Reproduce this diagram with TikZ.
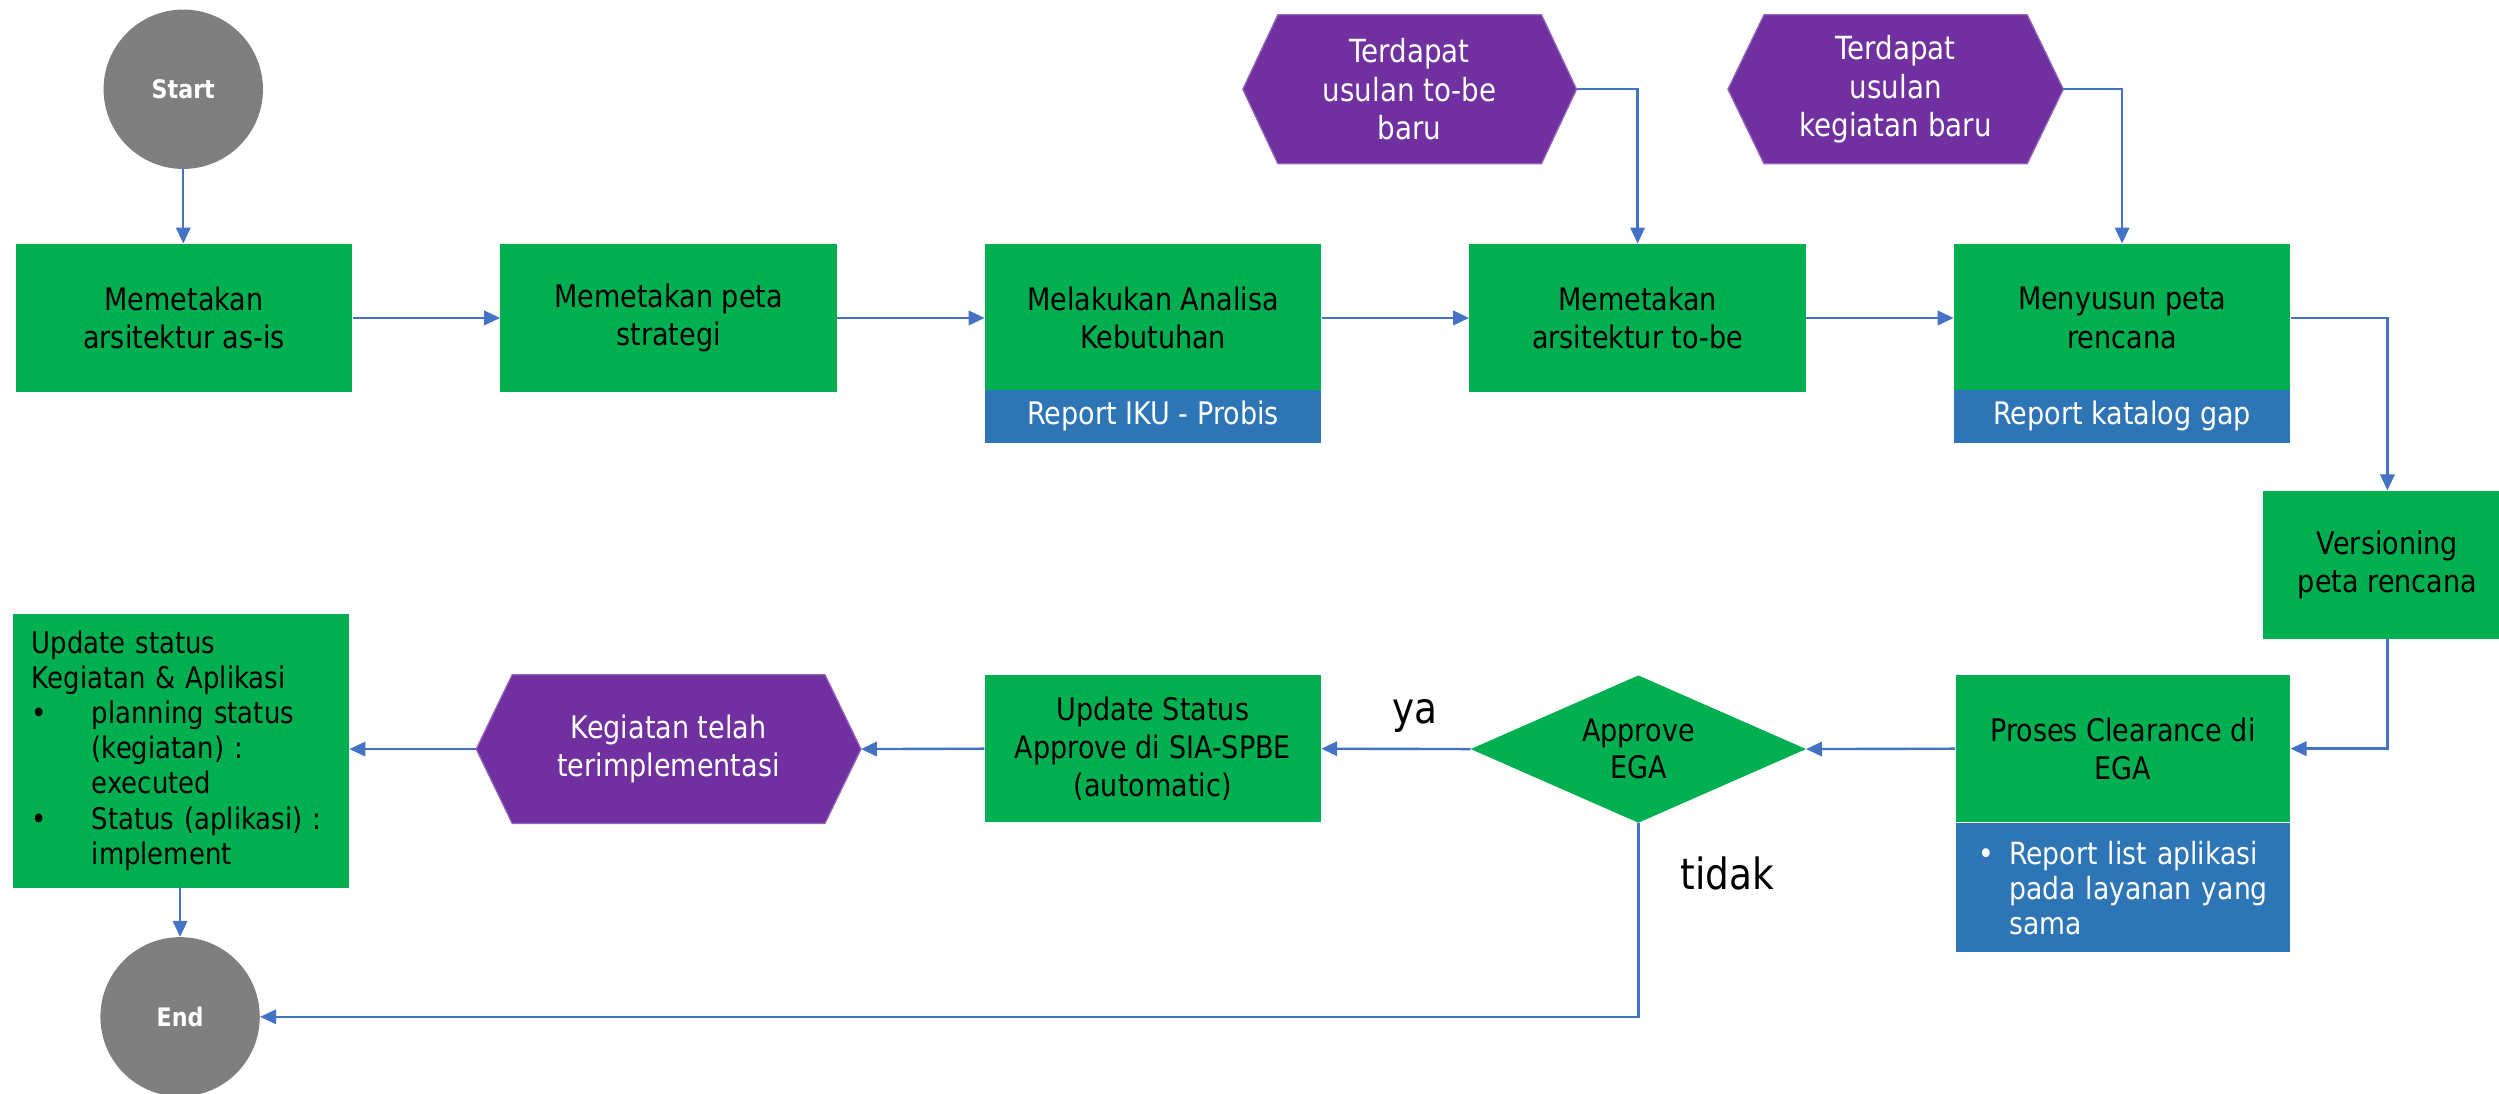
\documentclass[tikz,border=0pt]{standalone}
\usepackage{fontspec}
\setmainfont{DejaVu Sans}[FakeStretch=0.87]
\usetikzlibrary{arrows.meta,backgrounds}
\definecolor{pgreen}{HTML}{00B050}
\definecolor{pblue}{HTML}{2E75B6}
\definecolor{ppurple}{HTML}{7030A0}
\definecolor{pgray}{HTML}{7F7F7F}
\definecolor{parrow}{HTML}{4472C4}
\begin{document}
\begin{tikzpicture}[x=1pt,y=-1pt,
  txt/.style={font=\fontsize{19.5}{24}\selectfont, align=center},
  gbox/.style={txt, fill=pgreen, text=black, minimum width=211pt, minimum height=93pt, inner sep=0pt},
  rbar/.style={font=\fontsize{19.5}{22}\selectfont, fill=pblue, text=white, minimum width=211pt, minimum height=33.4pt, inner sep=0pt, align=center},
  hexbox/.style={txt, text=white, minimum height=93pt, inner sep=0pt},
  term/.style={circle, fill=pgray, text=white, minimum size=100pt, inner sep=0pt, font=\fontsize{16}{19}\selectfont\bfseries},
  dec/.style={text=black, minimum width=210pt, minimum height=92pt, inner sep=0pt, font=\fontsize{19.5}{23}\selectfont, align=center},
  lbl/.style={font=\fontsize{27}{30}\selectfont, inner sep=0pt},
  arr/.style={-{Triangle[length=10pt,width=9pt]}, line width=1.5pt, draw=parrow},
  hexfill/.style={fill=ppurple, draw=ppurple!75!white, line width=0.8pt}
]
\useasboundingbox (0,0) rectangle (1568,686.4);

% terminals
\node[term] (start) at (115,56) {Start};
\node[term] (end) at (113,638) {End};

% top row
\node[gbox] (b1) at (115.5,199.5) {Memetakan\\arsitektur as-is};
\node[gbox] (b2) at (419.5,199.5) {Memetakan peta\\strategi};
\node[gbox] (b3) at (723.5,199.5) {Melakukan Analisa\\Kebutuhan};
\node[rbar] (r3) at (723.5,261.1) {Report IKU - Probis};
\node[gbox] (b4) at (1027.5,199.5) {Memetakan\\arsitektur to-be};
\node[gbox] (b5) at (1331.5,199.5) {Menyusun peta\\rencana};
\node[rbar] (r5) at (1331.5,261.1) {Report katalog gap};

% hexagons
\node[hexbox, minimum width=209pt, font=\fontsize{20}{24}\selectfont] (h1) at (884.5,56) {Terdapat\\usulan to-be\\baru};
\node[hexbox, minimum width=210pt, font=\fontsize{20}{24}\selectfont] (h2) at (1189.4,56) {Terdapat\\usulan\\kegiatan baru};
\node[hexbox, minimum width=241pt] (h3) at (419.5,470) {Kegiatan telah\\terimplementasi};

% right column
\node[gbox, minimum width=156pt] (v) at (1498,354.4) {Versioning\\peta rencana};
\node[gbox, minimum width=210pt, minimum height=92.5pt] (pc) at (1332,469.75) {Proses Clearance di\\EGA};
\node[fill=pblue, text=white, minimum width=210pt, minimum height=81pt, inner sep=0pt,
      text width=181pt, align=left, font=\fontsize{19.2}{22}\selectfont] (rpc) at (1332,557)
  {\mbox{\makebox[19.2pt][l]{\textbullet}Report list aplikasi}\\
   \mbox{\hspace*{19.2pt}pada layanan yang}\\
   \mbox{\hspace*{19.2pt}sama}};

% bottom row
\node[dec] (d) at (1028,470) {Approve\\EGA};
\node[gbox, minimum height=92.5pt] (us) at (723.3,469.75) {Update Status\\Approve di SIA-SPBE\\(automatic)};
\node[gbox, minimum width=211pt, minimum height=172pt, text width=187pt, align=left,
      font=\fontsize{18.7}{22}\selectfont] (up) at (113.5,471)
  {Update status\\
   Kegiatan \& Aplikasi\\
   \makebox[37.6pt][l]{\textbullet}planning status\\
   \hspace*{37.6pt}(kegiatan) :\\
   \hspace*{37.6pt}executed\\
   \makebox[37.6pt][l]{\textbullet}Status (aplikasi) :\\
   \hspace*{37.6pt}implement};

% labels
\node[lbl] (ya) at (887.7,449) {ya};
\node[lbl] (tidak) at (1083.8,548) {tidak};

% shape fills behind the texts
\begin{scope}[on background layer]
\foreach \n/\i in {h1/22, h2/22.6, h3/22.6}{
  \filldraw[hexfill] (\n.west) -- ([xshift=\i pt]\n.north west) -- ([xshift=-\i pt]\n.north east)
    -- (\n.east) -- ([xshift=-\i pt]\n.south east) -- ([xshift=\i pt]\n.south west) -- cycle;
}
\fill[pgreen] (d.west) -- (d.north) -- (d.east) -- (d.south) -- cycle;
\end{scope}

% connectors
\draw[arr] (start.south) -- (start.south |- b1.north);
\draw[arr] (b1.east) -- (b2.west);
\draw[arr] (b2.east) -- (b3.west);
\draw[arr] (b3.east) -- (b4.west);
\draw[arr] (b4.east) -- (b5.west);
\draw[arr] (h1.east) -| (b4.north);
\draw[arr] (h2.east) -| (b5.north);
\draw[arr] (b5.east) -| (v.north);
\draw[arr] (v.south) |- (pc.east);
\draw[arr] (pc.west) -- (d.east);
\draw[arr] (d.west) -- (us.east);
\draw[arr] (us.west) -- (h3.east);
\draw[arr] (h3.west) -- (h3.west -| up.east);
\draw[arr] (up.south) -- (up.south -| end.north) -- (end.north);
\draw[arr] (d.south) |- (end.east);
\end{tikzpicture}
\end{document}
